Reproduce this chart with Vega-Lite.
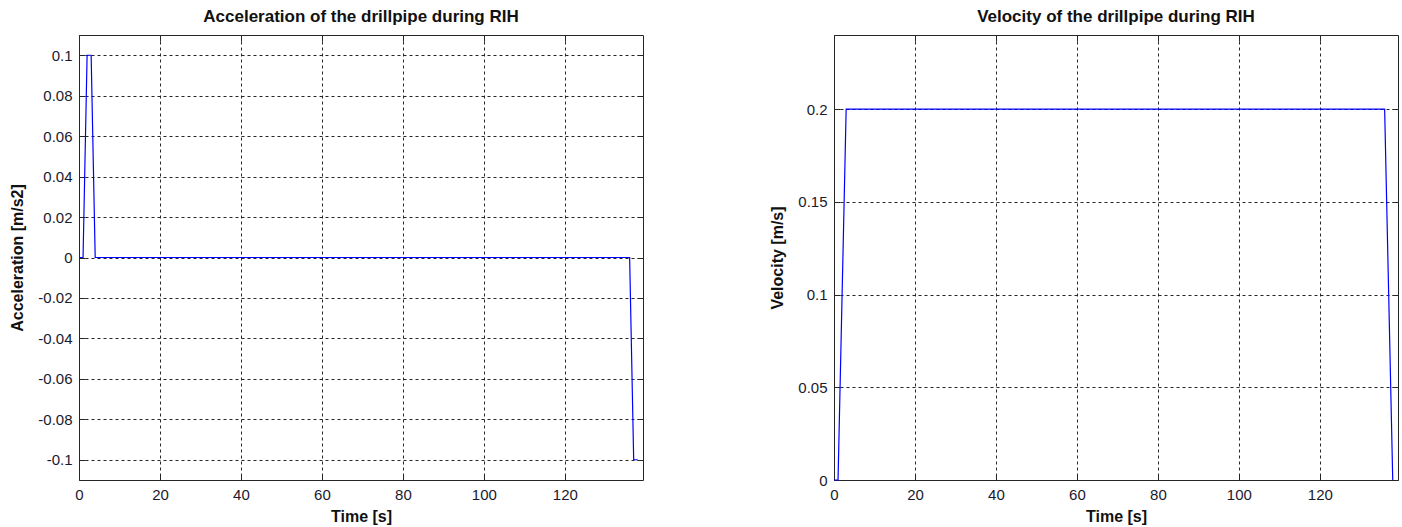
{
  "$schema": "https://vega.github.io/schema/vega-lite/v6.json",
  "background": "white",
  "padding": {"left": 9, "top": 7, "right": 0, "bottom": 0},
  "spacing": 125,
  "config": {
    "font": "Liberation Sans",
    "view": {"stroke": "#262626", "strokeWidth": 1},
    "title": {"font": "Liberation Sans", "fontSize": 17, "fontWeight": "bold", "color": "#111111", "anchor": "middle", "offset": 9},
    "axis": {
      "labelFont": "Liberation Sans",
      "labelFontSize": 15,
      "labelColor": "#1a1a2e",
      "titleFont": "Liberation Sans",
      "titleFontSize": 16,
      "titleFontWeight": "bold",
      "titleColor": "#111111",
      "domain": false,
      "tickSize": -6,
      "tickColor": "#262626",
      "tickWidth": 1,
      "gridColor": "#262626",
      "gridDash": [3, 3],
      "gridOpacity": 1,
      "gridWidth": 1,
      "labelPadding": 13,
      "labelFlush": false,
      "labelOverlap": false
    }
  },
  "hconcat": [
    {
      "width": 564,
      "height": 445,
      "title": "Acceleration of the drillpipe during RIH",
      "data": {"values": [
        {"t": 0, "a": 0}, {"t": 1, "a": 0}, {"t": 2, "a": 0.1}, {"t": 3, "a": 0.1}, {"t": 4, "a": 0},
        {"t": 136, "a": 0}, {"t": 137, "a": -0.1}, {"t": 138, "a": -0.1}
      ]},
      "layer": [
        {
          "mark": {"type": "line", "color": "#0000ff", "strokeWidth": 1.2, "interpolate": "linear"},
          "encoding": {
            "x": {"field": "t", "type": "quantitative",
              "scale": {"domain": [0, 139.3], "nice": false, "zero": false},
              "axis": {"orient": "bottom", "title": "Time [s]", "values": [0, 20, 40, 60, 80, 100, 120], "format": "d", "titlePadding": 6}},
            "y": {"field": "a", "type": "quantitative",
              "scale": {"domain": [-0.11, 0.11], "nice": false, "zero": false},
              "axis": {"orient": "left", "title": "Acceleration [m/s2]", "values": [-0.1, -0.08, -0.06, -0.04, -0.02, 0, 0.02, 0.04, 0.06, 0.08, 0.1],
                "labelExpr": "replace(format(datum.value, '~g'), '−', '-')", "titlePadding": 12}}
          }
        },
        {
          "mark": {"type": "line", "opacity": 0},
          "encoding": {
            "x": {"field": "t", "type": "quantitative",
              "axis": {"orient": "top", "title": null, "labels": false, "grid": false, "values": [0, 20, 40, 60, 80, 100, 120]}},
            "y": {"field": "a", "type": "quantitative",
              "axis": {"orient": "right", "title": null, "labels": false, "grid": false, "values": [-0.1, -0.08, -0.06, -0.04, -0.02, 0, 0.02, 0.04, 0.06, 0.08, 0.1]}}
          }
        }
      ],
      "resolve": {"axis": {"x": "independent", "y": "independent"}}
    },
    {
      "width": 564,
      "height": 445,
      "title": "Velocity of the drillpipe during RIH",
      "data": {"values": [
        {"t": 0, "v": 0}, {"t": 1, "v": 0}, {"t": 2, "v": 0.1}, {"t": 3, "v": 0.2},
        {"t": 136, "v": 0.2}, {"t": 137, "v": 0.1}, {"t": 138, "v": 0}
      ]},
      "layer": [
        {
          "mark": {"type": "line", "color": "#0000ff", "strokeWidth": 1.2, "interpolate": "linear"},
          "encoding": {
            "x": {"field": "t", "type": "quantitative",
              "scale": {"domain": [0, 139.3], "nice": false, "zero": false},
              "axis": {"orient": "bottom", "title": "Time [s]", "values": [0, 20, 40, 60, 80, 100, 120], "format": "d", "titlePadding": 6}},
            "y": {"field": "v", "type": "quantitative",
              "scale": {"domain": [0, 0.24], "nice": false, "zero": false},
              "axis": {"orient": "left", "title": "Velocity [m/s]", "values": [0, 0.05, 0.1, 0.15, 0.2],
                "labelExpr": "replace(format(datum.value, '~g'), '−', '-')", "titlePadding": 12}}
          }
        },
        {
          "mark": {"type": "line", "opacity": 0},
          "encoding": {
            "x": {"field": "t", "type": "quantitative",
              "axis": {"orient": "top", "title": null, "labels": false, "grid": false, "values": [0, 20, 40, 60, 80, 100, 120]}},
            "y": {"field": "v", "type": "quantitative",
              "axis": {"orient": "right", "title": null, "labels": false, "grid": false, "values": [0, 0.05, 0.1, 0.15, 0.2]}}
          }
        }
      ],
      "resolve": {"axis": {"x": "independent", "y": "independent"}}
    }
  ]
}
